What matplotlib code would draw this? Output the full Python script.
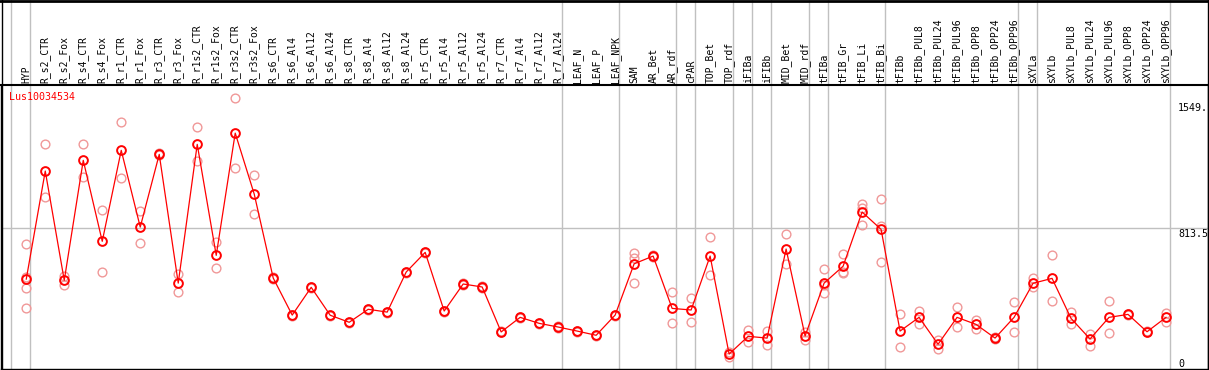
import matplotlib
matplotlib.use('Agg')
import matplotlib.pyplot as plt
from matplotlib.transforms import blended_transform_factory

# categories (top labels)
names = ['HYP', 'R_s2_CTR', 'R_s2_Fox', 'R_s4_CTR', 'R_s4_Fox', 'R_r1_CTR', 'R_r1_Fox',
         'R_r3_CTR', 'R_r3_Fox', 'R_r1s2_CTR', 'R_r1s2_Fox', 'R_r3s2_CTR', 'R_r3s2_Fox',
         'R_s6_CTR', 'R_s6_Al4', 'R_s6_Al12', 'R_s6_Al24', 'R_s8_CTR', 'R_s8_Al4', 'R_s8_Al12',
         'R_s8_Al24', 'R_r5_CTR', 'R_r5_Al4', 'R_r5_Al12', 'R_r5_Al24', 'R_r7_CTR', 'R_r7_Al4',
         'R_r7_Al12', 'R_r7_Al24', 'LEAF_N', 'LEAF_P', 'LEAF_NPK', 'SAM', 'AR_Bet', 'AR_rdf',
         'cPAR', 'TOP_Bet', 'TOP_rdf', 'iFIBa', 'iFIBb', 'MID_Bet', 'MID_rdf', 'tFIBa',
         'tFIB_Gr', 'tFIB_Li', 'tFIB_Bi', 'tFIBb', 'tFIBb_PUL8', 'tFIBb_PUL24', 'tFIBb_PUL96',
         'tFIBb_OPP8', 'tFIBb_OPP24', 'tFIBb_OPP96', 'sXYLa', 'sXYLb', 'sXYLb_PUL8',
         'sXYLb_PUL24', 'sXYLb_PUL96', 'sXYLb_OPP8', 'sXYLb_OPP24', 'sXYLb_OPP96']

# mean expression
means = [520, 1135, 513, 1196, 735, 1253, 816, 1230, 497, 1287, 655, 1351, 1004,
         526, 315, 473, 314, 274, 348, 332, 560, 672, 338, 492, 475, 219, 302, 268, 247,
         224, 200, 315, 607, 651, 353, 344, 651, 93, 194, 184, 691, 196, 497, 593, 902,
         803, 224, 302, 149, 302, 262, 184, 302, 496, 524, 296, 179, 302, 319, 220, 302]

# replicate values
reps = [[720, 533, 467, 353], [1287, 987], [537, 488], [1287, 1099], [913, 558],
        [1412, 1094], [907, 725], [1238, 1224], [547, 446], [1384, 1190], [729, 581],
        [1549, 1150], [1111, 890], [530, 522], [318, 312], [476, 470], [317, 311],
        [277, 271], [351, 345], [335, 329], [563, 557], [675, 669], [341, 335], [495, 489],
        [478, 472], [222, 216], [305, 299], [271, 265], [250, 244], [227, 221], [203, 197],
        [318, 312], [670, 641, 499], [655, 647], [445, 268], [410, 274], [759, 541],
        [106, 78], [228, 163], [226, 143], [776, 606], [219, 173], [575, 486, 439],
        [661, 562, 556], [947, 926, 826], [976, 824, 617], [321, 133], [338, 262],
        [173, 123], [359, 249], [287, 237], [188, 180], [388, 217], [528, 476], [657, 393],
        [331, 262], [207, 141], [393, 211], [322, 316], [224, 216], [328, 277]]

# groups end after these
group_ends = ['HYP', 'R_r7_Al24', 'LEAF_NPK', 'AR_rdf', 'cPAR', 'TOP_rdf', 'iFIBa', 'iFIBb',
              'MID_rdf', 'tFIBa', 'tFIB_Bi', 'tFIBb_OPP96', 'sXYLa', 'sXYLb_OPP96']

gene = 'Lus10034534'
ylabels = ['1549.', '813.5', '0']

W, H = 1209, 370
fig = plt.figure(figsize=(W / 100, H / 100), dpi=100)
ax = fig.add_axes([1 / W, 1 / H, 1207 / W, 284 / H])
ax.set_xlim(-1.33, 62.21)
ax.set_ylim(8, 1625)
ax.set_xticks([])
ax.set_yticks([])
for s in ax.spines.values():
    s.set_color('black')
    s.set_linewidth(1)
ax.spines['top'].set_linewidth(1.5)

x = list(range(len(names)))
gray = '#c0c0c0'
tr = blended_transform_factory(ax.transData, fig.transFigure)

# separators
sep = [-0.8] + [names.index(n) + 0.2 for n in group_ends]
for s in sep:
    ax.plot([s, s], [0, 1], color=gray, lw=1, transform=tr, clip_on=False, zorder=1)
ax.axhline(813.5, color=gray, lw=1, zorder=1)

# replicates
for i, r in enumerate(reps):
    ax.plot([i] * len(r), r, 'o', ms=6.3, mfc='none', mec='#f09898', mew=1.0, zorder=2)

ax.plot(x, means, '-', color='red', lw=0.9, zorder=3)
ax.plot(x, means, 'o', ms=6.3, mfc='none', mec='red', mew=1.4, zorder=4)

# top labels
for i, n in enumerate(names):
    ax.text(i, (H - 83) / H, n, rotation=90, ha='center', va='bottom', fontsize=7,
            family='DejaVu Sans Mono', transform=tr)

fig.text(9 / W, 1 - 97 / H, gene, color='red', fontsize=7.2, family='DejaVu Sans Mono',
         va='center', ha='left')

for lab, ytop in zip(ylabels, [103, 229, 359]):
    fig.text(1178 / W, 1 - ytop / H, lab, fontsize=7.2, family='DejaVu Sans Mono',
             va='top', ha='left')

# outer frame
fig.add_artist(plt.Line2D([0, 1], [1 - 1 / H, 1 - 1 / H], color='black', lw=2))
fig.add_artist(plt.Line2D([1.5 / W, 1.5 / W], [0, 1], color='black', lw=1))
fig.add_artist(plt.Line2D([1208 / W, 1208 / W], [0, 1], color='black', lw=1))

fig.savefig('out.png', dpi=100)
